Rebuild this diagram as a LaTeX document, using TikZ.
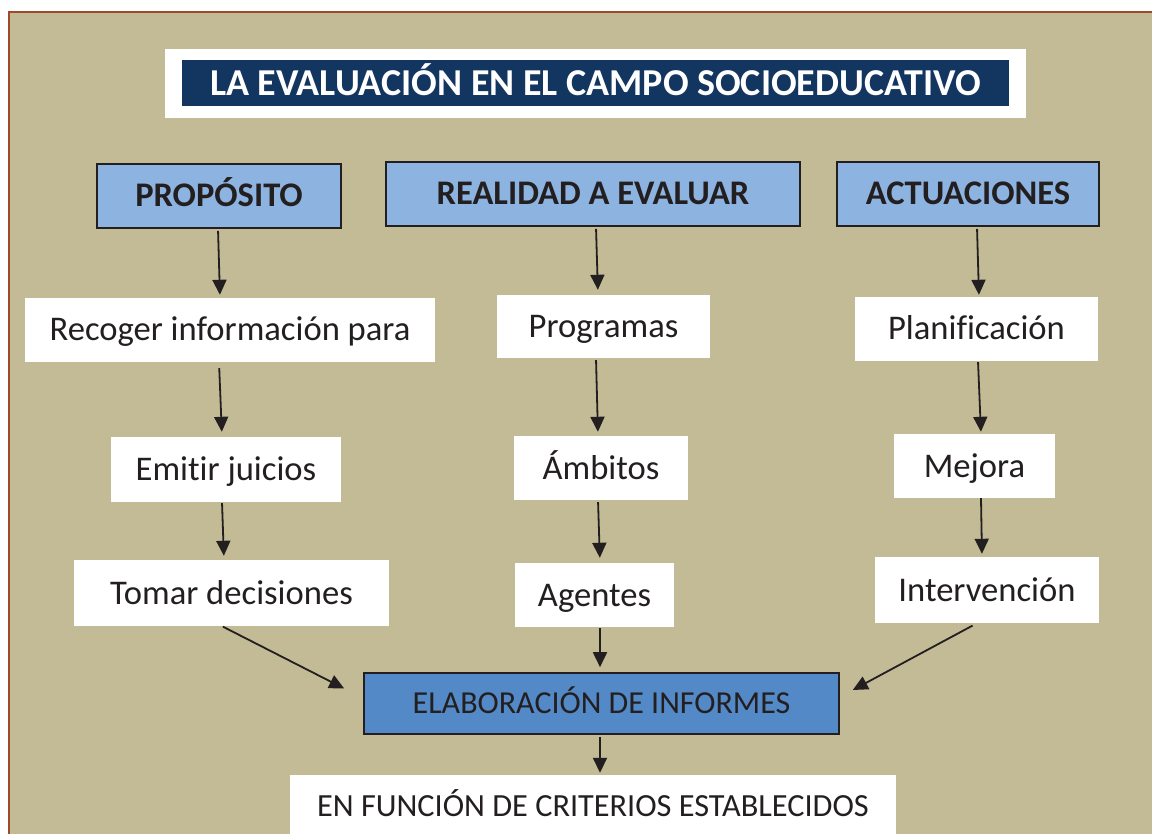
\documentclass[tikz,border=0pt]{standalone}
\usepackage{fontspec}
\setmainfont{Carlito}[Ligatures={NoCommon}]
\usetikzlibrary{arrows.meta,calc}
\definecolor{tanbg}{HTML}{C3BB95}
\definecolor{framec}{HTML}{A0482A}
\definecolor{navy}{HTML}{133660}
\definecolor{hdrblue}{HTML}{8DB3E0}
\definecolor{elabblue}{HTML}{5389C6}
\definecolor{ink}{HTML}{231F20}
\tikzset{
  hdr/.style={draw=ink, line width=1.8pt, fill=hdrblue, text=ink, inner sep=0pt,
    text height=22pt, text depth=0pt,
    font=\fontsize{34.5}{40}\selectfont\bfseries},
  wbox/.style={fill=white, text=ink, inner sep=0pt, text height=22pt, text depth=0pt,
    font=\fontsize{34.6}{40}\selectfont},
  elabbox/.style={draw=ink, line width=1.6pt, fill=elabblue, text=ink, inner sep=0pt,
    text height=20.6pt, text depth=0pt,
    font=\fontsize{32}{38}\selectfont},
  arr/.style={draw=ink, line width=1.8pt, -{Triangle[length=15pt,width=14pt]}},
}
\begin{document}
\begin{tikzpicture}[x=1pt,y=-1pt]
\useasboundingbox (0,0) rectangle (1152,834);
\fill[white] (0,0) rectangle (1152,834);
\draw[framec, line width=1.5pt, fill=tanbg] (9,12) rectangle (1170,850);
% title
\fill[white] (165,49) rectangle (1026,118);
\node[fill=navy, text=white, inner sep=0pt, minimum width=827pt, minimum height=46pt,
  text height=24.5pt, text depth=0pt,
  font=\fontsize{38}{44}\selectfont\bfseries] (title) at (595.5,83) {LA EVALUACIÓN EN EL CAMPO SOCIOEDUCATIVO};
% headers
\node[hdr, minimum width=244pt, minimum height=64pt] (prop) at (219,196) {PROPÓSITO};
\node[hdr, minimum width=414pt, minimum height=64pt] (real) at (593,194) {REALIDAD A EVALUAR};
\node[hdr, minimum width=262pt, minimum height=64pt] (act) at (968,194) {ACTUACIONES};
% column 1
\node[wbox, minimum width=410pt, minimum height=64pt] (recoger) at (230,330) {Recoger información para};
\node[wbox, minimum width=230pt, minimum height=65pt] (emitir) at (226,469.5) {Emitir juicios};
\node[wbox, minimum width=315pt, minimum height=66pt] (tomar) at (231.5,593) {Tomar decisiones};
% column 2
\node[wbox, minimum width=213pt, minimum height=63pt] (prog) at (603.5,326.5) {Programas};
\node[wbox, minimum width=174pt, minimum height=64pt] (amb) at (601,468) {Ámbitos};
\node[wbox, minimum width=159pt, minimum height=64pt] (agen) at (594.5,595) {Agentes};
% column 3
\node[wbox, minimum width=243pt, minimum height=64pt] (plan) at (976.5,329) {Planificación};
\node[wbox, minimum width=161pt, minimum height=64pt] (mej) at (974.5,466) {Mejora};
\node[wbox, minimum width=224pt, minimum height=66pt] (inter) at (987,590) {Intervención};
% bottom
\node[elabbox, minimum width=475pt, minimum height=61pt] (elab) at (601.5,703.5) {ELABORACIÓN DE INFORMES};
\node[wbox, minimum width=606pt, minimum height=62pt, text height=20.8pt,
  font=\fontsize{32.3}{38}\selectfont] (enf) at (593,806) {EN FUNCIÓN DE CRITERIOS ESTABLECIDOS};
% arrows column 1
\draw[arr, shorten <=2pt, shorten >=3pt] ([xshift=-1pt]prop.south) -- ([xshift=-10pt]recoger.north);
\draw[arr, shorten <=6pt, shorten >=5pt] ([xshift=-11pt]recoger.south) -- ([xshift=-4pt]emitir.north);
\draw[arr, shorten <=1pt, shorten >=4pt] ([xshift=-4pt]emitir.south) -- ([xshift=-7.5pt]tomar.north);
\draw[arr, shorten <=1pt] ([xshift=-9.5pt]tomar.south) -- ($(elab.west)+(-19,-15)$);
% arrows column 2
\draw[arr, shorten <=2pt, shorten >=5pt] ([xshift=3pt]real.south) -- ([xshift=-5.5pt]prog.north);
\draw[arr, shorten <=2pt, shorten >=4pt] ([xshift=-7.5pt]prog.south) -- ([xshift=-3pt]amb.north);
\draw[arr, shorten <=2pt, shorten >=5pt] ([xshift=-3pt]amb.south) -- ([xshift=5.5pt]agen.north);
\draw[arr, shorten <=1pt, shorten >=5pt] ([xshift=5.5pt]agen.south) -- ([xshift=-1.5pt]elab.north);
\draw[arr, shorten <=2pt, shorten >=2pt] ([xshift=-1.5pt]elab.south) -- ([xshift=7pt]enf.north);
% arrows column 3
\draw[arr, shorten <=2pt, shorten >=2pt] ([xshift=9pt]act.south) -- ([xshift=2.5pt]plan.north);
\draw[arr, shorten <=1pt, shorten >=2pt] ([xshift=1.5pt]plan.south) -- ([xshift=6.5pt]mej.north);
\draw[arr, shorten <=0pt, shorten >=3pt] ([xshift=6.5pt]mej.south) -- ([xshift=-5pt]inter.north);
\draw[arr, shorten <=5pt] ([xshift=-10pt]inter.south) -- ($(elab.east)+(13,-13.5)$);
\end{tikzpicture}
\end{document}
